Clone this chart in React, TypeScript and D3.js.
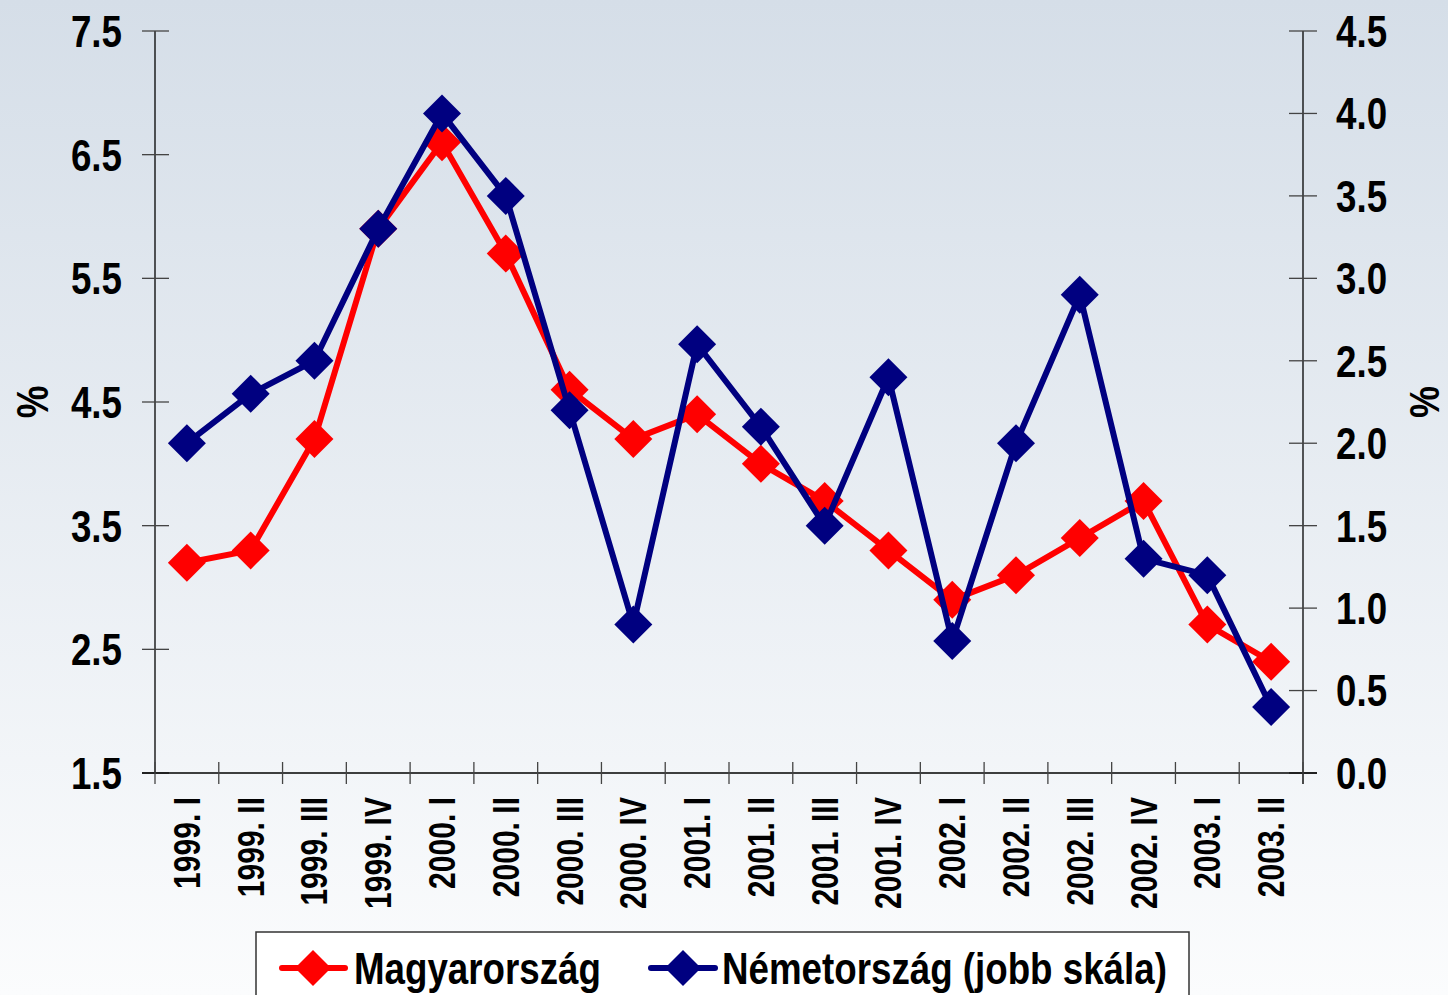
import React from "react";
import * as d3 from "d3";

const categories = ["1999. I","1999. II","1999. III","1999. IV","2000. I","2000. II","2000. III","2000. IV","2001. I","2001. II","2001. III","2001. IV","2002. I","2002. II","2002. III","2002. IV","2003. I","2003. II"];
const hungary = [3.2,3.3,4.2,5.9,6.6,5.7,4.6,4.2,4.4,4.0,3.7,3.3,2.9,3.1,3.4,3.7,2.7,2.4];
const germany = [2.0,2.3,2.5,3.3,4.0,3.5,2.2,0.9,2.6,2.1,1.5,2.4,0.8,2.0,2.9,1.3,1.2,0.4];
const leftTicks = [1.5,2.5,3.5,4.5,5.5,6.5,7.5];
const rightTicks = [0,0.5,1,1.5,2,2.5,3,3.5,4,4.5];
const seriesNames = ["Magyarország","Németország (jobb skála)"];

const W = 1448, H = 995;
const X0 = 155, X1 = 1303, Y0 = 31, Y1 = 773;
const FONT = "'Liberation Sans', Arial, sans-serif";
const SX = 0.835;
const RED = "#ff0000", BLUE = "#000080";

function diamond(x: number, y: number, r: number) {
  return `M${x},${y - r}L${x + r},${y}L${x},${y + r}L${x - r},${y}Z`;
}

function T(props: { tr: string; anchor?: string; size: number; dy?: string; children: React.ReactNode }) {
  return (
    <text transform={`${props.tr} scale(${SX},1)`} textAnchor={props.anchor || "start"} dy={props.dy}
      fontFamily={FONT} fontWeight="bold" fontSize={props.size} fill="#000">{props.children}</text>
  );
}

export default function App() {
  const x = d3.scaleBand<string>().domain(categories).range([X0, X1]);
  const yL = d3.scaleLinear().domain([1.5, 7.5]).range([Y1, Y0]);
  const yR = d3.scaleLinear().domain([0, 4.5]).range([Y1, Y0]);
  const cx = (c: string) => (x(c) as number) + x.bandwidth() / 2;
  const lineL = d3.line<number>().x((_, i) => cx(categories[i])).y(d => yL(d));
  const lineR = d3.line<number>().x((_, i) => cx(categories[i])).y(d => yR(d));
  const R = 19;
  const catEdges = categories.map(c => x(c) as number).concat([X1]);

  return (
    <svg width={W} height={H} style={{ position: "absolute", left: 0, top: 0 }}>
      <defs>
        <linearGradient id="bg" x1="0" y1="0" x2="0" y2="1">
          <stop offset="0" stopColor="#d5dee8" />
          <stop offset="1" stopColor="#fbfcfd" />
        </linearGradient>
      </defs>
      <rect x={0} y={0} width={W} height={H} fill="url(#bg)" />

      {/* left axis */}
      <line x1={X0} x2={X0} y1={Y0} y2={Y1} stroke="#000" strokeWidth={1.3} />
      {leftTicks.map(t => (
        <g key={"l" + t}>
          <line x1={X0 - 13} x2={X0 + 14} y1={yL(t)} y2={yL(t)} stroke="#444" strokeWidth={1.3} />
          <T tr={`translate(122,${yL(t)})`} anchor="end" size={44} dy="0.36em">{t.toFixed(1)}</T>
        </g>
      ))}
      {/* right axis */}
      <line x1={X1} x2={X1} y1={Y0} y2={Y1 + 11} stroke="#000" strokeWidth={1.3} />
      {rightTicks.map(t => (
        <g key={"r" + t}>
          <line x1={X1 - 14} x2={X1 + 14} y1={yR(t)} y2={yR(t)} stroke="#444" strokeWidth={1.3} />
          <T tr={`translate(1336,${yR(t)})`} anchor="start" size={44} dy="0.36em">{t.toFixed(1)}</T>
        </g>
      ))}
      {/* bottom axis */}
      <line x1={X0 - 13} x2={X1 + 14} y1={Y1} y2={Y1} stroke="#000" strokeWidth={1.3} />
      {catEdges.map((e, i) => (
        <line key={"c" + i} x1={e} x2={e} y1={Y1 - 11} y2={Y1 + 11} stroke="#444" strokeWidth={1.3} />
      ))}
      {categories.map(c => (
        <T key={c} tr={`translate(${cx(c) + 13},${797}) rotate(-90)`} anchor="end" size={36}>{c}</T>
      ))}

      {/* axis titles */}
      <T tr={`translate(48,402) rotate(-90)`} anchor="middle" size={44}>%</T>
      <T tr={`translate(1439,402) rotate(-90)`} anchor="middle" size={43}>%</T>

      {/* series */}
      <path d={lineL(hungary) || ""} fill="none" stroke={RED} strokeWidth={6} strokeLinejoin="round" />
      {hungary.map((v, i) => (
        <path key={"h" + i} d={diamond(cx(categories[i]), yL(v), R)} fill={RED} />
      ))}
      <path d={lineR(germany) || ""} fill="none" stroke={BLUE} strokeWidth={6} strokeLinejoin="round" />
      {germany.map((v, i) => (
        <path key={"g" + i} d={diamond(cx(categories[i]), yR(v), R)} fill={BLUE} />
      ))}

      {/* legend */}
      <rect x={256} y={932} width={933} height={80} fill="#fff" stroke="#333" strokeWidth={1.5} />
      <line x1={282} x2={345} y1={968} y2={968} stroke={RED} strokeWidth={6} strokeLinecap="round" />
      <path d={diamond(313, 968, 18)} fill={RED} />
      <T tr={`translate(354,984)`} size={44}>{seriesNames[0]}</T>
      <line x1={651} x2={715} y1={968} y2={968} stroke={BLUE} strokeWidth={6} strokeLinecap="round" />
      <path d={diamond(683, 968, 18)} fill={BLUE} />
      <T tr={`translate(722,984)`} size={44}>{seriesNames[1]}</T>
    </svg>
  );
}
